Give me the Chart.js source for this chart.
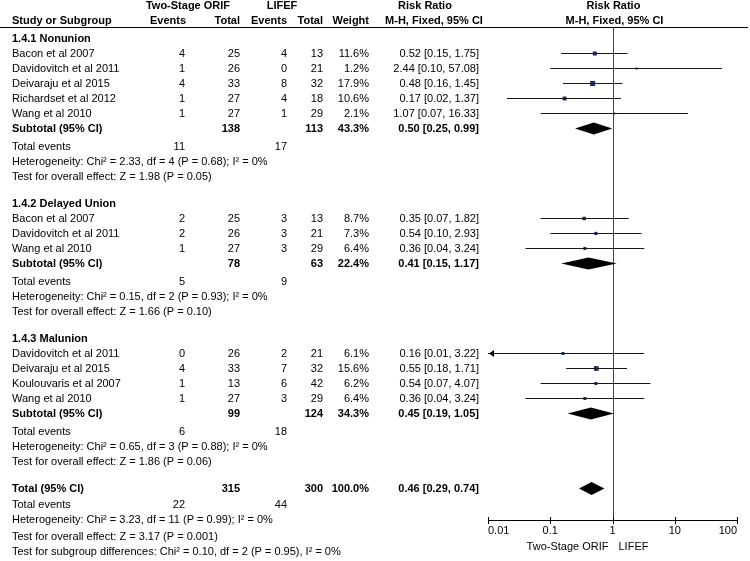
<!DOCTYPE html>
<html>
<head>
<meta charset="utf-8">
<script src="https://cdn.jsdelivr.net/npm/chart.js@4.4.0/dist/chart.umd.min.js"></script>
<style>
  html, body { margin: 0; padding: 0; background: #fff; }
  #wrap { width: 750px; height: 561px; position: relative; }
</style>
</head>
<body>
<div id="wrap"><canvas id="forest"></canvas></div>
<script>
// ---- data ----
const groupNames = ['1.4.1 Nonunion', '1.4.2 Delayed Union', '1.4.3 Malunion'];

const studyGroup = [0, 0, 0, 0, 0, 1, 1, 1, 2, 2, 2, 2];
const studyNames = [
    'Bacon et al 2007', 'Davidovitch et al 2011', 'Deivaraju et al 2015', 'Richardset et al 2012', 'Wang et al 2010',
    'Bacon et al 2007', 'Davidovitch et al 2011', 'Wang et al 2010',
    'Davidovitch et al 2011', 'Deivaraju et al 2015', 'Koulouvaris et al 2007', 'Wang et al 2010'
];
const eventsORIF  = [4, 1, 4, 1, 1,   2, 2, 1,   0, 4, 1, 1];
const totalORIF   = [25, 26, 33, 27, 27,   25, 26, 27,   26, 33, 13, 27];
const eventsLIFEF = [4, 0, 8, 4, 1,   3, 3, 3,   2, 7, 6, 3];
const totalLIFEF  = [13, 21, 32, 18, 29,   13, 21, 29,   21, 32, 42, 29];
const weights     = [11.6, 1.2, 17.9, 10.6, 2.1,   8.7, 7.3, 6.4,   6.1, 15.6, 6.2, 6.4];
const riskRatio   = [0.52, 2.44, 0.48, 0.17, 1.07,   0.35, 0.54, 0.36,   0.16, 0.55, 0.54, 0.36];
const ciLower     = [0.15, 0.10, 0.16, 0.02, 0.07,   0.07, 0.10, 0.04,   0.01, 0.18, 0.07, 0.04];
const ciUpper     = [1.75, 57.08, 1.45, 1.37, 16.33,   1.82, 2.93, 3.24,   3.22, 1.71, 4.07, 3.24];

const subTotalORIF   = [138, 78, 99];
const subTotalLIFEF  = [113, 63, 124];
const subWeight      = [43.3, 22.4, 34.3];
const subRR          = [0.50, 0.41, 0.45];
const subLower       = [0.25, 0.15, 0.19];
const subUpper       = [0.99, 1.17, 1.05];
const subEventsORIF  = [11, 5, 6];
const subEventsLIFEF = [17, 9, 18];
const subHetero = [
    'Heterogeneity: Chi² = 2.33, df = 4 (P = 0.68); I² = 0%',
    'Heterogeneity: Chi² = 0.15, df = 2 (P = 0.93); I² = 0%',
    'Heterogeneity: Chi² = 0.65, df = 3 (P = 0.88); I² = 0%'
];
const subEffect = [
    'Test for overall effect: Z = 1.98 (P = 0.05)',
    'Test for overall effect: Z = 1.66 (P = 0.10)',
    'Test for overall effect: Z = 1.86 (P = 0.06)'
];

const overallTotalORIF = 315;
const overallTotalLIFEF = 300;
const overallWeight = 100.0;
const overallRR = 0.46;
const overallLower = 0.29;
const overallUpper = 0.74;
const overallEventsORIF = 22;
const overallEventsLIFEF = 44;
const overallHetero = 'Heterogeneity: Chi² = 3.23, df = 11 (P = 0.99); I² = 0%';
const overallEffect = 'Test for overall effect: Z = 3.17 (P = 0.001)';
const subgroupDiff = 'Test for subgroup differences: Chi² = 0.10, df = 2 (P = 0.95), I² = 0%';

const axisTicks = [0.01, 0.1, 1, 10, 100];
const axisTickLabels = ['0.01', '0.1', '1', '10', '100'];
const favourLabels = ['Two-Stage ORIF', 'LIFEF'];

// ---- layout ----
const FONT = '11px "Liberation Sans", Arial, sans-serif';
const BOLD = 'bold 11px "Liberation Sans", Arial, sans-serif';
const ROW_PX = 15;
const FIRST_ROW_PX = 38.5;
const PAD = { left: 488, right: 13, top: 27, bottom: 41 };
const CANVAS_H = 561;
const FOOT = 0.2; // footer lines sit a little lower than the grid

const COL = { name: 12, evA: 185, totA: 240, evB: 287, totB: 323, w: 369, ci: 479 };

// row index of every line in the table
const studyRow = [];
const subRow = [];
const headerRow = [];
let r = 0;
groupNames.forEach((g, gi) => {
    headerRow.push(r);
    studyGroup.forEach((sg, i) => { if (sg === gi) studyRow[i] = ++r; });
    subRow.push(++r);
    r += 5;
});
const totalRow = r;

const fmt2 = v => v.toFixed(2);
const ciText = (e, lo, hi) => `${fmt2(e)} [${fmt2(lo)}, ${fmt2(hi)}]`;

// ---- datasets ----
const ciLines = studyNames.map((n, i) => ({
    label: n,
    data: [{ x: ciLower[i], y: studyRow[i] }, { x: ciUpper[i], y: studyRow[i] }],
    showLine: true,
    borderColor: '#1a1a1a',
    borderWidth: 1,
    pointRadius: 0
}));

const squares = {
    label: 'Study estimates',
    data: riskRatio.map((v, i) => ({ x: v, y: studyRow[i] })),
    showLine: false,
    pointStyle: 'rect',
    pointRadius: weights.map(w => Math.max(2, 1.2 * Math.sqrt(w)) / Math.SQRT2),
    backgroundColor: '#1f2d6b',
    borderWidth: 0,
    pointBorderWidth: 0
};

function text(ctx, str, x, y, align, bold) {
    ctx.font = bold ? BOLD : FONT;
    ctx.textAlign = align;
    ctx.fillText(str, x, y);
}

function diamond(ctx, xs, ys, lo, est, hi, row, half) {
    const y = ys.getPixelForValue(row);
    ctx.beginPath();
    ctx.moveTo(xs.getPixelForValue(lo), y);
    ctx.lineTo(xs.getPixelForValue(est), y - half);
    ctx.lineTo(xs.getPixelForValue(hi), y);
    ctx.lineTo(xs.getPixelForValue(est), y + half);
    ctx.closePath();
    ctx.fill();
}

const forestPlugin = {
    id: 'forestTable',
    beforeDatasetsDraw(chart) {
        const { ctx, chartArea: a, scales: { x: xs } } = chart;
        ctx.save();
        // header rule
        ctx.strokeStyle = '#000';
        ctx.lineWidth = 1;
        ctx.beginPath();
        ctx.moveTo(0, a.top + 0.5);
        ctx.lineTo(748, a.top + 0.5);
        ctx.stroke();
        // line of no effect
        const x1 = Math.round(xs.getPixelForValue(1)) + 0.5;
        ctx.strokeStyle = '#444';
        ctx.beginPath();
        ctx.moveTo(x1, a.top + 0.5);
        ctx.lineTo(x1, a.bottom);
        ctx.stroke();
        // x axis
        ctx.strokeStyle = '#000';
        ctx.beginPath();
        ctx.moveTo(a.left, a.bottom + 0.5);
        ctx.lineTo(a.right, a.bottom + 0.5);
        axisTicks.forEach(t => {
            const px = Math.round(xs.getPixelForValue(t)) + 0.5;
            ctx.moveTo(px, a.bottom - 3);
            ctx.lineTo(px, a.bottom + 4);
        });
        ctx.stroke();
        ctx.restore();
    },
    afterDatasetsDraw(chart) {
        const { ctx, chartArea: a, scales: { x: xs, y: ys } } = chart;
        ctx.save();
        ctx.fillStyle = '#000';
        ctx.textBaseline = 'middle';

        // arrows for intervals running off the axis
        studyNames.forEach((n, i) => {
            const y = ys.getPixelForValue(studyRow[i]);
            if (ciLower[i] <= xs.min) {
                ctx.beginPath();
                ctx.moveTo(a.left + 1, y);
                ctx.lineTo(a.left + 6, y - 3.5);
                ctx.lineTo(a.left + 6, y + 3.5);
                ctx.closePath();
                ctx.fill();
            }
            if (ciUpper[i] >= xs.max) {
                ctx.beginPath();
                ctx.moveTo(a.right - 1, y);
                ctx.lineTo(a.right - 6, y - 3.5);
                ctx.lineTo(a.right - 6, y + 3.5);
                ctx.closePath();
                ctx.fill();
            }
        });

        // diamonds
        groupNames.forEach((g, gi) => diamond(ctx, xs, ys, subLower[gi], subRR[gi], subUpper[gi], subRow[gi], 6));
        diamond(ctx, xs, ys, overallLower, overallRR, overallUpper, totalRow, 6.5);

        // column headers
        const x1 = xs.getPixelForValue(1);
        const h1 = ys.getPixelForValue(-2.15);
        const h2 = ys.getPixelForValue(-1.17);
        text(ctx, 'Two-Stage ORIF', 188, h1, 'center', true);
        text(ctx, 'LIFEF', 282, h1, 'center', true);
        text(ctx, 'Risk Ratio', 425, h1, 'center', true);
        text(ctx, 'Risk Ratio', x1 + 1, h1, 'center', true);
        text(ctx, 'Study or Subgroup', COL.name, h2, 'left', true);
        text(ctx, 'Events', COL.evA + 1, h2, 'right', true);
        text(ctx, 'Total', COL.totA, h2, 'right', true);
        text(ctx, 'Events', COL.evB, h2, 'right', true);
        text(ctx, 'Total', COL.totB, h2, 'right', true);
        text(ctx, 'Weight', COL.w, h2, 'right', true);
        text(ctx, 'M-H, Fixed, 95% CI', 434, h2, 'center', true);
        text(ctx, 'M-H, Fixed, 95% CI', x1 + 2, h2, 'center', true);

        // studies
        studyNames.forEach((n, i) => {
            const y = ys.getPixelForValue(studyRow[i]);
            text(ctx, n, COL.name, y, 'left');
            text(ctx, String(eventsORIF[i]), COL.evA, y, 'right');
            text(ctx, String(totalORIF[i]), COL.totA, y, 'right');
            text(ctx, String(eventsLIFEF[i]), COL.evB, y, 'right');
            text(ctx, String(totalLIFEF[i]), COL.totB, y, 'right');
            text(ctx, weights[i].toFixed(1) + '%', COL.w, y, 'right');
            text(ctx, ciText(riskRatio[i], ciLower[i], ciUpper[i]), COL.ci, y, 'right');
        });

        // subgroups
        groupNames.forEach((g, gi) => {
            text(ctx, g, COL.name, ys.getPixelForValue(headerRow[gi]), 'left', true);
            const y = ys.getPixelForValue(subRow[gi]);
            text(ctx, 'Subtotal (95% CI)', COL.name, y, 'left', true);
            text(ctx, String(subTotalORIF[gi]), COL.totA, y, 'right', true);
            text(ctx, String(subTotalLIFEF[gi]), COL.totB, y, 'right', true);
            text(ctx, subWeight[gi].toFixed(1) + '%', COL.w, y, 'right', true);
            text(ctx, ciText(subRR[gi], subLower[gi], subUpper[gi]), COL.ci, y, 'right', true);
            const ye = ys.getPixelForValue(subRow[gi] + 1 + FOOT);
            text(ctx, 'Total events', COL.name, ye, 'left');
            text(ctx, String(subEventsORIF[gi]), COL.evA, ye, 'right');
            text(ctx, String(subEventsLIFEF[gi]), COL.evB, ye, 'right');
            text(ctx, subHetero[gi], COL.name, ys.getPixelForValue(subRow[gi] + 2 + FOOT), 'left');
            text(ctx, subEffect[gi], COL.name, ys.getPixelForValue(subRow[gi] + 3 + FOOT), 'left');
        });

        // overall
        const yt = ys.getPixelForValue(totalRow);
        text(ctx, 'Total (95% CI)', COL.name, yt, 'left', true);
        text(ctx, String(overallTotalORIF), COL.totA, yt, 'right', true);
        text(ctx, String(overallTotalLIFEF), COL.totB, yt, 'right', true);
        text(ctx, overallWeight.toFixed(1) + '%', COL.w, yt, 'right', true);
        text(ctx, ciText(overallRR, overallLower, overallUpper), COL.ci, yt, 'right', true);
        const ye = ys.getPixelForValue(totalRow + 1 + FOOT / 2);
        text(ctx, 'Total events', COL.name, ye, 'left');
        text(ctx, String(overallEventsORIF), COL.evA, ye, 'right');
        text(ctx, String(overallEventsLIFEF), COL.evB, ye, 'right');
        text(ctx, overallHetero, COL.name, ys.getPixelForValue(totalRow + 2 + FOOT / 2), 'left');
        text(ctx, overallEffect, COL.name, ys.getPixelForValue(totalRow + 3 + FOOT), 'left');
        text(ctx, subgroupDiff, COL.name, ys.getPixelForValue(totalRow + 4 + FOOT), 'left');

        // axis tick labels and favour labels
        axisTicks.forEach((t, i) => {
            const px = xs.getPixelForValue(t);
            const align = i === 0 ? 'left' : (i === axisTicks.length - 1 ? 'right' : 'center');
            text(ctx, axisTickLabels[i], px, a.bottom + 11, align);
        });
        text(ctx, favourLabels[0], x1 - 4, a.bottom + 27, 'right');
        text(ctx, favourLabels[1], x1 + 6, a.bottom + 27, 'left');

        ctx.restore();
    }
};

// y scale limits so that row n sits at FIRST_ROW_PX + n * ROW_PX
const yMin = (PAD.top - FIRST_ROW_PX) / ROW_PX;
const yMax = (CANVAS_H - PAD.bottom - FIRST_ROW_PX) / ROW_PX;

new Chart(document.getElementById('forest').getContext('2d'), {
    type: 'scatter',
    data: { datasets: [...ciLines, squares] },
    options: {
        responsive: true,
        maintainAspectRatio: false,
        animation: false,
        layout: { padding: PAD },
        plugins: {
            legend: { display: false },
            tooltip: { enabled: false }
        },
        scales: {
            x: { type: 'logarithmic', min: 0.01, max: 100, display: false },
            y: { type: 'linear', reverse: true, min: yMin, max: yMax, display: false }
        }
    },
    plugins: [forestPlugin]
});
</script>
</body>
</html>
